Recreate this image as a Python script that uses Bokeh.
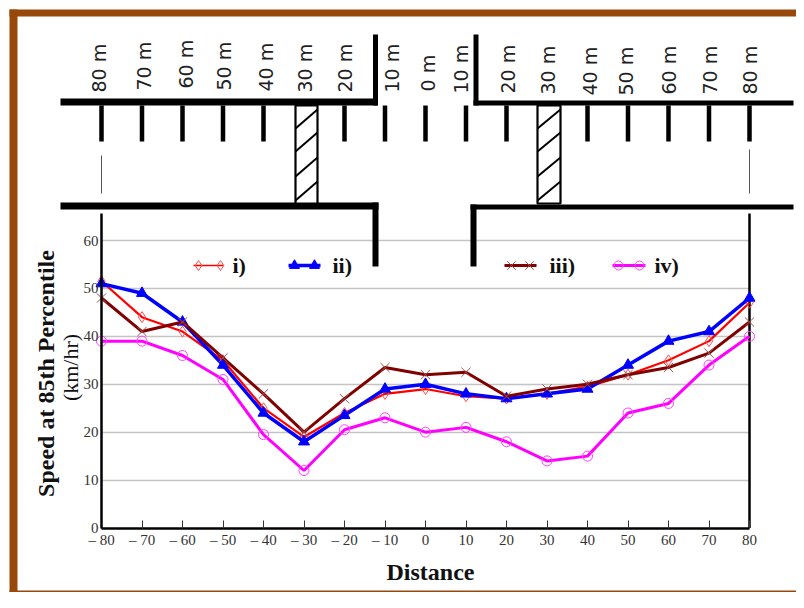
from math import pi
from bokeh.plotting import figure
from bokeh.models import Range1d, FixedTicker
from bokeh.core.properties import value
from bokeh.embed import file_html
from bokeh.resources import INLINE

distance = [-80, -70, -60, -50, -40, -30, -20, -10, 0, 10, 20, 30, 40, 50, 60, 70, 80]
series_i = [51.5, 44, 41, 35, 25, 19, 24, 28, 29, 27.5, 27, 28, 29.5, 32, 35, 39, 47]
series_ii = [51, 49, 43, 34, 24, 18, 23.5, 29, 30, 28, 27, 28, 29, 34, 39, 41, 48]
series_iii = [48, 41, 43, 35.5, 28, 20, 27, 33.5, 32, 32.5, 27.5, 29, 30, 32, 33.5, 36.5, 43]
series_iv = [39, 39, 36, 31, 19.5, 12, 20.5, 23, 20, 21, 18, 14, 15, 24, 26, 34, 40]
y_ticks = [0, 10, 20, 30, 40, 50, 60]
road_labels = ["80 m", "70 m", "60 m", "50 m", "40 m", "30 m", "20 m", "10 m", "0 m",
               "10 m", "20 m", "30 m", "40 m", "50 m", "60 m", "70 m", "80 m"]
x_tick_labels = {d: (f"\u2013 {abs(d)}" if d < 0 else str(d)) for d in distance}

W, H = 796, 592


def X(px):
    return -80 + (px - 101) * 160 / (749 - 101)


def Y(py):
    return (527.5 - py) * 60 / (527.5 - 240)


p = figure(width=W, height=H, output_backend="svg", toolbar_location=None,
           x_range=Range1d(X(0), X(W)), y_range=Range1d(Y(H), Y(0)),
           min_border=0, min_border_left=0, min_border_right=0,
           min_border_top=0, min_border_bottom=0)
p.outline_line_color = None
p.xgrid.visible = False

p.ygrid.ticker = FixedTicker(ticks=y_ticks[1:])
p.ygrid.cross_bounds = (-80, 80)
p.ygrid.grid_line_color = "#c4c4c4"
p.ygrid.grid_line_width = 1.3

# frame
brown = "#97480a"
p.quad(left=[X(9), X(9), X(9)], right=[X(17), X(W), X(W)],
       top=[Y(9), Y(9), Y(H - 2)], bottom=[Y(H), Y(16), Y(H)],
       fill_color=brown, line_color=None)

# axes
ax = p.xaxis[0]
ax.fixed_location = 0
ax.bounds = (-80, 80)
ax.ticker = FixedTicker(ticks=distance)
ax.major_label_overrides = x_tick_labels
ax.major_tick_in = 8
ax.major_tick_out = 0
ax.minor_tick_line_color = None
ax.major_tick_line_color = "#333333"
ax.axis_line_color = "black"
ax.axis_line_width = 2.5
ax.major_label_text_font = "Liberation Serif"
ax.major_label_text_font_size = "15px"
ax.major_label_text_color = "#333333"
ax.major_label_standoff = 4

ay = p.yaxis[0]
ay.fixed_location = -80
ay.bounds = (0, Y(213))
ay.ticker = FixedTicker(ticks=y_ticks)
ay.major_tick_in = 0
ay.major_tick_out = 0
ay.minor_tick_line_color = None
ay.axis_line_color = "black"
ay.axis_line_width = 2.5
ay.major_label_text_font = "Liberation Serif"
ay.major_label_text_font_size = "15px"
ay.major_label_text_color = "#333333"
ay.major_label_standoff = 3

# right border of the plot
p.segment(x0=[80], y0=[0], x1=[80], y1=[Y(213)], line_color="black", line_width=2.5)

# road diagram: walls
road_x0 = [60, 60, 375, 473, 475.5, 470, 473, 375]
road_y0 = [101.5, 205.5, 34, 102.5, 34, 206.5, 204, 202]
road_x1 = [377, 378, 375, 793, 475.5, 793, 473, 375]
road_y1 = [101.5, 205.5, 105, 102.5, 105, 206.5, 266, 266]
road_w = [7, 7, 5, 5, 5, 5, 6, 6]
p.segment(x0=[X(v) for v in road_x0], y0=[Y(v) for v in road_y0],
          x1=[X(v) for v in road_x1], y1=[Y(v) for v in road_y1],
          line_color="black", line_width=road_w, line_cap="butt")

# road diagram: markers across the road
stripes = [d for d in distance if d not in (-30, 30)]
p.segment(x0=stripes, y0=[Y(105)] * len(stripes), x1=stripes, y1=[Y(141)] * len(stripes),
          line_color="black", line_width=4.5, line_cap="butt")
p.segment(x0=[-80, 80], y0=[Y(155), Y(149)], x1=[-80, 80], y1=[Y(193), Y(193)],
          line_color="#555555", line_width=1)

# hatched crossings
for left, right in ((295, 317), (537, 560)):
    p.quad(left=[X(left)], right=[X(right)], top=[Y(105)], bottom=[Y(203)],
           fill_color="white", line_color="black", line_width=2.2)
    starts = [128, 151, 176, 200]
    p.segment(x0=[X(left)] * 4, y0=[Y(s) for s in starts],
              x1=[X(right)] * 4, y1=[Y(s - 19) for s in starts],
              line_color="black", line_width=2)

# road labels
label_px = [98, 143, 185, 223, 265, 304, 344, 391, 427, 460, 507, 547, 589, 625, 668, 709, 749]
label_bottom = [92, 90, 88, 90, 91, 92, 92, 92, 91, 93, 93, 94, 95, 95, 94, 94, 94]
p.text(x=[X(v) for v in label_px], y=[Y(v) for v in label_bottom], text=road_labels,
       angle=pi / 2, text_align="left", text_baseline="middle",
       text_font=value("DejaVu Sans"), text_font_size="19px", text_color="#222222")

# series
p.line(distance, series_i, line_color="#ff0000", line_width=2.2)
p.scatter(distance, series_i, marker="diamond", size=11, fill_color=None,
          line_color="#ff5050", line_width=1)
p.line(distance, series_ii, line_color="#0000ff", line_width=3.5)
p.scatter(distance, series_ii, marker="triangle", size=11, fill_color="#0000ff",
          line_color="#0000ff")
p.line(distance, series_iii, line_color="#800000", line_width=3)
p.scatter(distance, series_iii, marker="x", size=13, line_color="#a05050", line_width=1)
p.line(distance, series_iv, line_color="#ff00ff", line_width=3)
p.scatter(distance, series_iv, marker="circle", size=10, fill_color=None,
          line_color="#ff40ff", line_width=1)

# legend
ly = Y(265)
p.line([X(193), X(223)], [ly, ly], line_color="#ff0000", line_width=1.5)
p.scatter([X(198), X(220)], [ly, ly], marker="diamond", size=10, fill_color=None, line_color="#ff5050")
p.line([X(288), X(320)], [ly, ly], line_color="#0000ff", line_width=3.5)
p.scatter([X(294), X(314)], [ly, ly], marker="triangle", size=10, fill_color="#0000ff", line_color="#0000ff")
p.line([X(504), X(536)], [ly, ly], line_color="#800000", line_width=3)
p.scatter([X(511), X(529)], [ly, ly], marker="x", size=12, line_color="#a05050")
p.line([X(612), X(645)], [ly, ly], line_color="#ff00ff", line_width=3)
p.scatter([X(618), X(639)], [ly, ly], marker="circle", size=9, fill_color=None, line_color="#ff40ff")
p.text(x=[X(232), X(332), X(549), X(654)], y=[ly] * 4, text=["i)", "ii)", "iii)", "iv)"],
       text_align="left", text_baseline="middle", text_font=value("Liberation Serif"),
       text_font_style="bold", text_font_size="22px", text_color="#111111")

# axis titles
p.text(x=[X(430)], y=[Y(571)], text=["Distance"], text_align="center", text_baseline="middle",
       text_font=value("Liberation Serif"), text_font_style="bold", text_font_size="24px",
       text_color="#111111")
p.text(x=[X(45)], y=[Y(373)], text=["Speed at 85th Percentile"], angle=pi / 2,
       text_align="center", text_baseline="middle", text_font=value("Liberation Serif"),
       text_font_style="bold", text_font_size="24px", text_color="#111111")
p.text(x=[X(70)], y=[Y(367)], text=["(km/hr)"], angle=pi / 2,
       text_align="center", text_baseline="middle", text_font=value("Liberation Serif"),
       text_font_size="22px", text_color="#111111")

open("out.html", "w").write(file_html(p, INLINE))
